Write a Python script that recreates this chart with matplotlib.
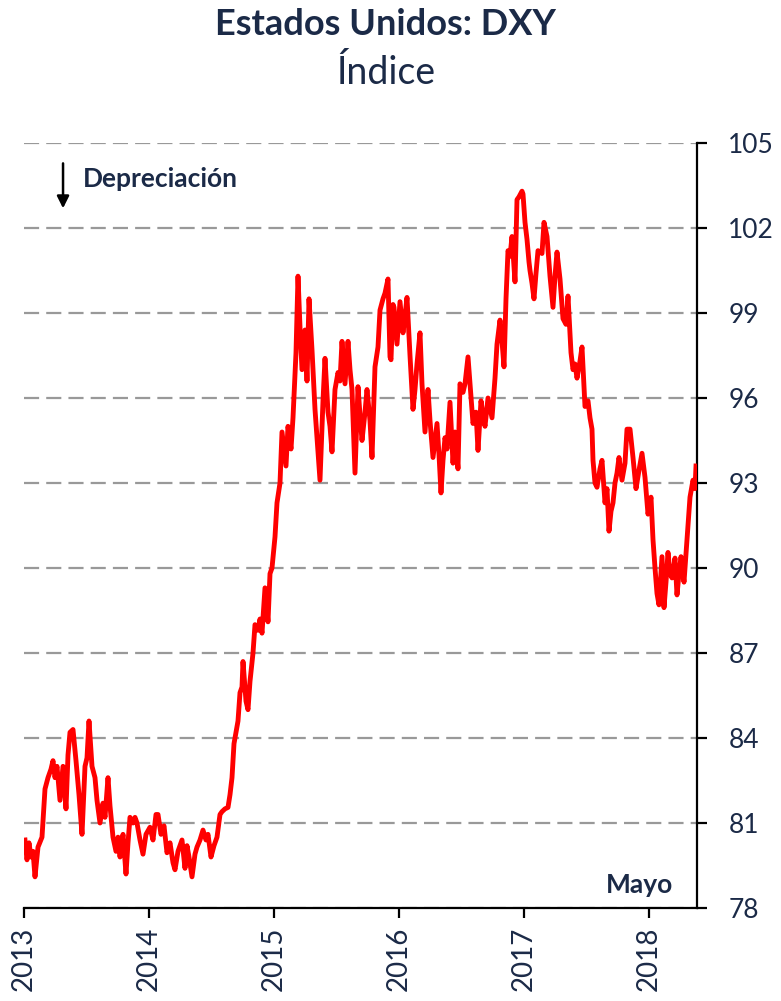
import matplotlib
matplotlib.use("Agg")
import matplotlib.pyplot as plt
import numpy as np

# ---- data (decimal year, DXY index) ----
years = [
    2013.008, 2013.024, 2013.040, 2013.056, 2013.072, 2013.088, 2013.112, 2013.144, 2013.168, 2013.192,
    2013.216, 2013.232, 2013.248, 2013.264, 2013.288, 2013.312, 2013.336, 2013.352, 2013.368, 2013.392,
    2013.416, 2013.440, 2013.464, 2013.488, 2013.504, 2013.520, 2013.544, 2013.568, 2013.584, 2013.608,
    2013.632, 2013.648, 2013.672, 2013.688, 2013.712, 2013.736, 2013.752, 2013.768, 2013.792, 2013.816,
    2013.832, 2013.848, 2013.872, 2013.888, 2013.904, 2013.928, 2013.952, 2013.976, 2014.008, 2014.032,
    2014.056, 2014.072, 2014.096, 2014.120, 2014.144, 2014.168, 2014.192, 2014.208, 2014.232, 2014.264,
    2014.288, 2014.304, 2014.320, 2014.344, 2014.368, 2014.384, 2014.408, 2014.432, 2014.456, 2014.472,
    2014.496, 2014.520, 2014.544, 2014.568, 2014.584, 2014.608, 2014.632, 2014.648, 2014.664, 2014.680,
    2014.696, 2014.712, 2014.728, 2014.744, 2014.752, 2014.776, 2014.792, 2014.808, 2014.832, 2014.848,
    2014.872, 2014.888, 2014.904, 2014.928, 2014.952, 2014.968, 2014.984, 2015.008, 2015.024, 2015.048,
    2015.064, 2015.080, 2015.096, 2015.112, 2015.136, 2015.152, 2015.176, 2015.192, 2015.208, 2015.224,
    2015.248, 2015.264, 2015.280, 2015.304, 2015.328, 2015.344, 2015.368, 2015.392, 2015.408, 2015.432,
    2015.448, 2015.464, 2015.488, 2015.512, 2015.528, 2015.544, 2015.568, 2015.592, 2015.608, 2015.624,
    2015.648, 2015.672, 2015.688, 2015.704, 2015.728, 2015.744, 2015.768, 2015.784, 2015.808, 2015.832,
    2015.848, 2015.872, 2015.888, 2015.912, 2015.928, 2015.936, 2015.952, 2015.960, 2015.984, 2016.008,
    2016.032, 2016.048, 2016.064, 2016.088, 2016.112, 2016.128, 2016.144, 2016.168, 2016.184, 2016.208,
    2016.232, 2016.248, 2016.272, 2016.288, 2016.304, 2016.320, 2016.336, 2016.352, 2016.368, 2016.384,
    2016.408, 2016.432, 2016.448, 2016.472, 2016.488, 2016.512, 2016.528, 2016.552, 2016.568, 2016.592,
    2016.616, 2016.632, 2016.656, 2016.672, 2016.688, 2016.712, 2016.744, 2016.768, 2016.784, 2016.808,
    2016.824, 2016.840, 2016.856, 2016.872, 2016.888, 2016.904, 2016.928, 2016.944, 2016.960, 2016.984,
    2016.992, 2017.008, 2017.024, 2017.040, 2017.048, 2017.064, 2017.080, 2017.096, 2017.112, 2017.144,
    2017.160, 2017.184, 2017.208, 2017.232, 2017.248, 2017.264, 2017.288, 2017.312, 2017.336, 2017.352,
    2017.376, 2017.392, 2017.408, 2017.424, 2017.448, 2017.464, 2017.488, 2017.512, 2017.528, 2017.544,
    2017.552, 2017.568, 2017.584, 2017.608, 2017.624, 2017.648, 2017.664, 2017.680, 2017.696, 2017.712,
    2017.728, 2017.744, 2017.760, 2017.784, 2017.808, 2017.824, 2017.848, 2017.872, 2017.896, 2017.920,
    2017.944, 2017.968, 2017.992, 2018.016, 2018.032, 2018.048, 2018.064, 2018.080, 2018.104, 2018.120,
    2018.136, 2018.152, 2018.168, 2018.184, 2018.208, 2018.224, 2018.240, 2018.256, 2018.280, 2018.304,
    2018.328, 2018.352, 2018.368, 2018.376,
]
dxy = [
    80.4, 79.7, 80.3, 79.8, 80.0, 79.1, 80.15, 80.5, 82.2, 82.6,
    82.9, 83.2, 82.6, 83.0, 81.8, 83.0, 81.5, 83.4, 84.2, 84.3,
    83.2, 82.0, 80.6, 83.0, 83.3, 84.6, 83.0, 82.6, 81.8, 81.0,
    81.7, 81.2, 82.6, 81.6, 80.5, 80.0, 80.5, 79.8, 80.6, 79.2,
    80.3, 81.2, 81.0, 81.2, 81.0, 80.4, 79.9, 80.6, 80.85, 80.4,
    81.3, 81.3, 80.6, 80.9, 79.95, 80.3, 79.6, 79.35, 80.0, 80.4,
    79.4, 80.2, 79.8, 79.1, 79.9, 80.15, 80.4, 80.75, 80.4, 80.6,
    79.8, 80.2, 80.5, 81.3, 81.4, 81.5, 81.55, 82.0, 82.6, 83.8,
    84.2, 84.6, 85.6, 85.8, 86.7, 85.3, 85.0, 86.0, 87.0, 88.0,
    87.8, 88.2, 87.7, 89.3, 88.1, 89.8, 90.0, 91.1, 92.3, 93.0,
    94.8, 94.2, 93.6, 95.0, 94.2, 95.3, 97.6, 100.3, 98.5, 97.0,
    98.4, 96.6, 99.5, 97.7, 95.6, 94.6, 93.1, 95.9, 97.4, 95.5,
    95.0, 94.1, 96.3, 96.9, 96.6, 98.0, 96.5, 98.0, 97.0, 96.3,
    93.35, 96.4, 95.4, 94.5, 95.5, 96.3, 95.2, 93.9, 97.1, 97.8,
    99.1, 99.5, 99.7, 100.2, 97.45, 97.35, 99.3, 99.2, 97.9, 99.4,
    98.3, 98.9, 99.55, 97.5, 95.6, 96.3, 97.2, 98.3, 96.5, 94.8,
    96.3, 95.2, 93.9, 94.5, 95.1, 94.0, 92.65, 93.8, 94.6, 94.2,
    95.85, 93.7, 94.8, 93.5, 96.5, 96.2, 96.5, 97.45, 96.5, 95.1,
    95.5, 94.15, 95.9, 95.4, 95.0, 96.0, 95.3, 96.7, 97.9, 98.75,
    98.0, 97.1, 99.5, 101.2, 101.0, 101.7, 100.1, 103.0, 103.1, 103.3,
    103.2, 102.2, 101.6, 100.8, 100.5, 100.05, 99.5, 100.4, 101.2, 101.1,
    102.2, 101.7, 100.3, 99.2, 100.3, 101.15, 100.2, 98.8, 98.6, 99.6,
    97.6, 97.0, 97.2, 96.7, 97.3, 97.8, 95.7, 95.9, 95.3, 94.9,
    93.8, 93.0, 92.85, 93.5, 93.8, 92.3, 92.8, 91.3, 92.0, 92.3,
    93.0, 93.35, 93.9, 93.1, 93.7, 94.9, 94.9, 93.9, 92.8, 93.45,
    94.05, 93.2, 91.9, 92.5, 91.0, 90.0, 89.1, 88.7, 90.4, 88.6,
    89.5, 90.55, 89.8, 89.65, 90.35, 89.05, 89.8, 90.4, 89.5, 91.0,
    92.5, 93.1, 92.8, 93.6,
]
year_ticks = [2013, 2014, 2015, 2016, 2017, 2018]
year_labels = ["2013", "2014", "2015", "2016", "2017", "2018"]
y_ticks = [78, 81, 84, 87, 90, 93, 96, 99, 102, 105]

NAVY = "#1b2a47"
plt.rcParams["font.family"] = ["Lato", "DejaVu Sans"]

fig = plt.figure(figsize=(7.81, 10.01), dpi=100)
ax = fig.add_axes([24 / 781, 1 - 908 / 1001, 673 / 781, 765 / 1001])

ax.plot(years, dxy, color="#ff0000", lw=3.5, solid_joinstyle="round", zorder=3)

ax.set_xlim(2013.0, 2018.384)
ax.set_ylim(78, 105)
ax.set_yticks(y_ticks)
ax.set_xticks(year_ticks)
ax.set_xticklabels(year_labels, rotation=90)

ax.yaxis.tick_right()
ax.grid(axis="y", color="#999999", linestyle=(0, (6.8, 3.2)), linewidth=1.6, zorder=1)
for sp in ["left", "top"]:
    ax.spines[sp].set_visible(False)
for sp in ["right", "bottom"]:
    ax.spines[sp].set_linewidth(1.6)
    ax.spines[sp].set_color("black")

ax.tick_params(axis="y", which="both", direction="out", length=7.5, width=1.6, pad=15,
               labelsize=19, labelcolor=NAVY, right=True, labelright=True,
               left=False, labelleft=False)
ax.tick_params(axis="x", direction="out", length=7.5, width=1.6, pad=6,
               labelsize=20, labelcolor=NAVY)

fig.text(0.494, 1 - 35 / 1001, "Estados Unidos: DXY", ha="center", va="baseline",
         fontsize=26, fontweight="bold", color=NAVY)
fig.text(0.494, 1 - 84 / 1001, "Índice", ha="center", va="baseline",
         fontsize=27, color=NAVY)

ax.annotate("", xy=(0.058, 0.911), xytext=(0.058, 0.977), xycoords="axes fraction",
            arrowprops=dict(arrowstyle="-|>", color="black", lw=1.8, mutation_scale=18))
ax.text(0.0877, 0.9425, "Depreciación", transform=ax.transAxes, ha="left", va="baseline",
        fontsize=19, fontweight="bold", color=NAVY)
ax.text(0.964, 0.0196, "Mayo", transform=ax.transAxes, ha="right", va="baseline",
        fontsize=19, fontweight="bold", color=NAVY)

fig.savefig("out.png", dpi=100)
